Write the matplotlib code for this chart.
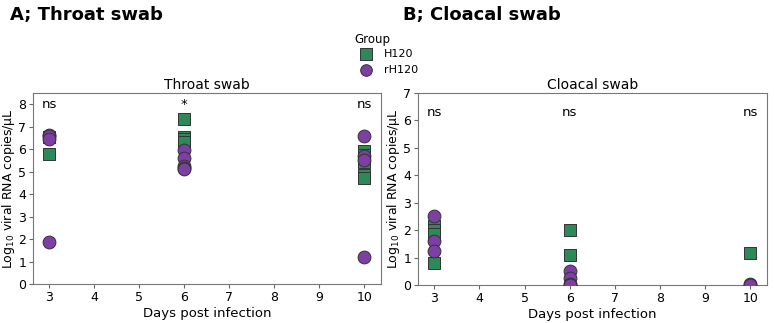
import matplotlib
matplotlib.use("Agg")
import matplotlib.pyplot as plt

days = [3, 6, 10]

# throat swab values (log10 copies/uL)
throat_h120 = {3: [6.55, 5.8], 6: [7.35, 6.55, 6.45, 6.3], 10: [5.9, 5.75, 5.45, 4.85, 4.7]}
throat_rh120 = {3: [6.65, 6.6, 6.45, 1.85], 6: [5.95, 5.6, 5.25, 5.15, 5.1], 10: [6.6, 5.7, 5.5, 1.2]}
throat_sig = ["ns", "*", "ns"]

# cloacal swab values
cloacal_h120 = {3: [2.15, 2.0, 1.85, 0.8], 6: [2.0, 1.1], 10: [1.15]}
cloacal_rh120 = {3: [2.5, 1.6, 1.25], 6: [0.5, 0.25, 0.05, 0.0], 10: [0.05, 0.0]}
cloacal_sig = ["ns", "ns", "ns"]

green = "#2b8a57"
purple = "#7d3fa3"

fig = plt.figure(figsize=(7.74, 3.23), dpi=100)
ax1 = fig.add_axes([33/774, 1 - 284/323, 348/774, 191/323])
ax2 = fig.add_axes([418/774, 1 - 285/323, 349/774, 192/323])


def draw(ax, h120, rh120, sig, ymax, sig_y, title):
    for d in days:
        ax.scatter([d] * len(h120[d]), h120[d], marker="s", s=85, color=green,
                   edgecolor="#333333", linewidth=0.7, zorder=3)
        ax.scatter([d] * len(rh120[d]), rh120[d], marker="o", s=85, color=purple,
                   edgecolor="#333333", linewidth=0.7, zorder=3)
    for d, s in zip(days, sig):
        ax.text(d, sig_y, s, ha="center", va="center", fontsize=9.5)
    ax.set_xlim(2.64, 10.37)
    ax.set_ylim(0, ymax)
    ax.set_xticks(range(3, 11))
    ax.set_yticks(range(0, int(ymax) + 1))
    ax.tick_params(labelsize=9, length=3, color="#666666", pad=2)
    for sp in ax.spines.values():
        sp.set_color("#777777")
    ax.set_xlabel("Days post infection", fontsize=9.5, labelpad=2)
    ax.set_ylabel(r"Log$_{10}$ viral RNA copies/µL", fontsize=9, labelpad=1)
    ax.set_title(title, fontsize=10, pad=3)


draw(ax1, throat_h120, throat_rh120, throat_sig, 8.5, 8.0, "Throat swab")
draw(ax2, cloacal_h120, cloacal_rh120, cloacal_sig, 7, 6.3, "Cloacal swab")

fig.text(10/774, 1 - 15/323, "A; Throat swab", fontsize=13, fontweight="bold", va="center")
fig.text(403/774, 1 - 15/323, "B; Cloacal swab", fontsize=13, fontweight="bold", va="center")

# legend
fig.text(372/774, 1 - 39/323, "Group", fontsize=8.5, ha="center", va="center")
lax = fig.add_axes([0, 0, 1, 1], facecolor="none")
lax.set_axis_off()
lax.set_xlim(0, 774)
lax.set_ylim(323, 0)
lax.scatter([366], [54], marker="s", s=70, color=green, edgecolor="#333333", linewidth=0.7)
lax.scatter([366], [70], marker="o", s=70, color=purple, edgecolor="#333333", linewidth=0.7)
lax.text(384, 54, "H120", fontsize=8, va="center")
lax.text(384, 70, "rH120", fontsize=8, va="center")

fig.savefig("out.png", dpi=100)
